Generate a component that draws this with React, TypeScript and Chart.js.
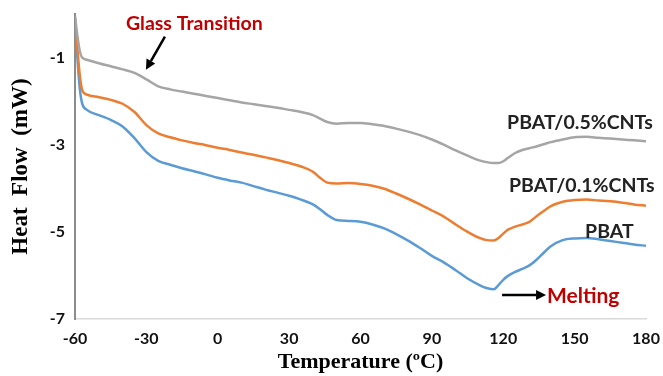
import React, { useEffect, useRef } from "react";
import { Chart, registerables } from "chart.js";

Chart.register(...registerables);

// Temperature (ºC) sample points
const tempC = [-60, -59, -58, -57, -55, -50, -45, -40, -35, -30, -25, -20, -15, -10, -5, 0, 5, 10, 15, 20, 25, 30, 35, 40, 43, 46, 50, 55, 60, 65, 70, 75, 80, 85, 90, 95, 100, 105, 110, 113, 116, 118, 120, 122, 125, 128, 131, 134, 137, 140, 145, 150, 155, 160, 165, 170, 175, 180];

// Heat flow (mW) per sample
const pbat05 = [-0.05, -0.5, -0.85, -1.0, -1.05, -1.13, -1.2, -1.27, -1.35, -1.5, -1.66, -1.73, -1.78, -1.83, -1.88, -1.93, -1.98, -2.03, -2.07, -2.11, -2.15, -2.2, -2.25, -2.32, -2.4, -2.48, -2.52, -2.5, -2.5, -2.53, -2.57, -2.63, -2.7, -2.78, -2.88, -3.0, -3.13, -3.25, -3.36, -3.4, -3.42, -3.42, -3.38, -3.3, -3.19, -3.12, -3.08, -3.04, -2.99, -2.94, -2.88, -2.83, -2.82, -2.84, -2.86, -2.88, -2.9, -2.92];
const pbat01 = [-0.1, -0.8, -1.4, -1.74, -1.85, -1.91, -1.97, -2.06, -2.25, -2.55, -2.74, -2.83, -2.9, -2.96, -3.01, -3.07, -3.12, -3.18, -3.23, -3.29, -3.35, -3.42, -3.5, -3.62, -3.76, -3.87, -3.89, -3.88, -3.9, -3.94, -4.01, -4.12, -4.24, -4.37, -4.51, -4.65, -4.83, -5.0, -5.14, -5.19, -5.2, -5.14, -5.04, -4.95, -4.88, -4.83, -4.77, -4.64, -4.52, -4.41, -4.31, -4.27, -4.26, -4.28, -4.3, -4.33, -4.37, -4.4];
const pbat = [-0.1, -1.0, -1.7, -2.05, -2.2, -2.32, -2.43, -2.58, -2.85, -3.17, -3.37, -3.46, -3.54, -3.61, -3.68, -3.76, -3.82, -3.87, -3.95, -4.03, -4.1, -4.17, -4.26, -4.37, -4.48, -4.61, -4.73, -4.75, -4.77, -4.83, -4.92, -5.05, -5.2, -5.37, -5.55, -5.7, -5.88, -6.07, -6.22, -6.29, -6.32, -6.22, -6.1, -6.01, -5.92, -5.85, -5.77, -5.64, -5.48, -5.33, -5.19, -5.15, -5.14, -5.17, -5.21, -5.25, -5.29, -5.32];

const seriesNames = ["PBAT/0.5%CNTs", "PBAT/0.1%CNTs", "PBAT"];
const seriesColors = ["#a5a5a5", "#ed7d31", "#5b9bd5"];
const yTickValues = [-7, -5, -3, -1];

// Annotations (data coordinates)
const labelTexts = [
  { text: "PBAT/0.5%CNTs", x: 121.6, y: -2.63, color: "#222222", size: 19.5 },
  { text: "PBAT/0.1%CNTs", x: 122.4, y: -4.08, color: "#222222", size: 19.5 },
  { text: "PBAT", x: 154.4, y: -5.14, color: "#222222", size: 19.5 },
  { text: "Glass Transition", x: -38.6, y: -0.356, color: "#c00000", size: 19.5 },
  { text: "Melting", x: 138.4, y: -6.63, color: "#c00000", size: 21 },
];
const arrows = [
  { x1: -22.2, y1: -0.52, x2: -30.2, y2: -1.28 },
  { x1: 119.5, y1: -6.45, x2: 138.0, y2: -6.45 },
];

const annotationPlugin = {
  id: "annotations",
  afterDatasetsDraw(chart: any) {
    const { ctx, scales } = chart;
    const xs = scales.x;
    const ys = scales.y;
    ctx.save();
    for (const l of labelTexts) {
      ctx.font = `bold ${l.size}px Lato, "Open Sans", sans-serif`;
      ctx.fillStyle = l.color;
      ctx.textAlign = "left";
      ctx.textBaseline = "alphabetic";
      ctx.fillText(l.text, xs.getPixelForValue(l.x), ys.getPixelForValue(l.y));
    }
    for (const a of arrows) {
      const x1 = xs.getPixelForValue(a.x1);
      const y1 = ys.getPixelForValue(a.y1);
      const x2 = xs.getPixelForValue(a.x2);
      const y2 = ys.getPixelForValue(a.y2);
      const ang = Math.atan2(y2 - y1, x2 - x1);
      const head = 10;
      const hw = 5;
      const bx = x2 - head * Math.cos(ang);
      const by = y2 - head * Math.sin(ang);
      ctx.strokeStyle = "#000";
      ctx.fillStyle = "#000";
      ctx.lineWidth = 2.5;
      ctx.beginPath();
      ctx.moveTo(x1, y1);
      ctx.lineTo(bx, by);
      ctx.stroke();
      ctx.beginPath();
      ctx.moveTo(x2, y2);
      ctx.lineTo(bx + hw * Math.sin(ang), by - hw * Math.cos(ang));
      ctx.lineTo(bx - hw * Math.sin(ang), by + hw * Math.cos(ang));
      ctx.closePath();
      ctx.fill();
    }
    ctx.restore();
  },
};

export default function App() {
  const ref = useRef<HTMLCanvasElement | null>(null);
  useEffect(() => {
    if (!ref.current) return;
    const seriesValues = [pbat05, pbat01, pbat];
    const chart = new Chart(ref.current, {
      type: "line",
      data: {
        datasets: seriesNames.map((name, i) => ({
          label: name,
          data: tempC.map((t, j) => ({ x: t, y: seriesValues[i][j] })),
          borderColor: seriesColors[i],
          borderWidth: 2.5,
          pointRadius: 0,
          fill: false,
          cubicInterpolationMode: "monotone" as const,
        })),
      },
      options: {
        responsive: false,
        animation: false,
        events: [],
        layout: { padding: { top: 14, right: 17, left: 0, bottom: 0 } },
        plugins: { legend: { display: false }, tooltip: { enabled: false } },
        scales: {
          x: {
            type: "linear",
            min: -60,
            max: 180,
            grid: { display: false, drawTicks: false },
            border: { display: true, color: "#d9d9d9", width: 1.5 },
            ticks: {
              stepSize: 30,
              padding: 10,
              color: "#111",
              font: { family: "Lato, 'Open Sans', sans-serif", weight: "bold", size: 16 },
            },
            title: {
              display: true,
              text: "Temperature (ºC)",
              color: "#000",
              font: { family: "'Liberation Serif', serif", weight: "bold", size: 22 },
              padding: { top: 0, bottom: 0 },
            },
            afterFit(scale: any) {
              scale.height = 57;
              scale.paddingLeft = 0;
              scale.paddingRight = 0;
            },
          },
          y: {
            type: "linear",
            min: -7,
            max: 0,
            grid: { display: false, drawTicks: false },
            border: { display: true, color: "#8c8c8c", width: 2 },
            ticks: {
              padding: 10,
              color: "#111",
              font: { family: "Lato, 'Open Sans', sans-serif", weight: "bold", size: 16 },
            },
            afterBuildTicks(axis: any) {
              axis.ticks = yTickValues.map((v) => ({ value: v }));
            },
            title: {
              display: true,
              text: "Heat  Flow  (mW)",
              color: "#000",
              font: { family: "'Liberation Serif', serif", weight: "bold", size: 23 },
              padding: { top: 7, bottom: 0 },
            },
            afterFit(scale: any) {
              scale.width = 75;
              scale.paddingTop = 0;
              scale.paddingBottom = 0;
            },
          },
        },
      },
      plugins: [annotationPlugin],
    });
    return () => chart.destroy();
  }, []);
  return (
    <div style={{ position: "fixed", left: 0, top: 0, width: 663, height: 376, background: "#fff" }}>
      <canvas ref={ref} width={663} height={376} />
    </div>
  );
}
